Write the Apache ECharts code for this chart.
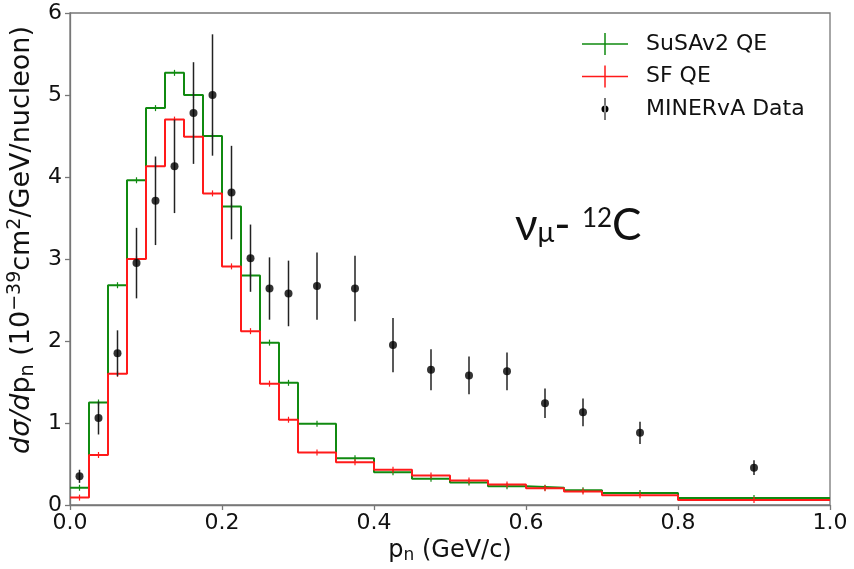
<!DOCTYPE html>
<html><head><meta charset="utf-8">
<script src="https://cdn.jsdelivr.net/npm/echarts@6/dist/echarts.min.js"></script>
<style>html,body{margin:0;padding:0;background:#fff}#c{width:854px;height:569px}</style>
</head><body><div id="c"></div>
<script>
// Bin edges (GeV/c)
const binEdges = [0, 0.025, 0.05, 0.075, 0.1, 0.125, 0.15, 0.175, 0.2, 0.225, 0.25, 0.275, 0.3, 0.35, 0.4, 0.45, 0.5, 0.55, 0.6, 0.65, 0.7, 0.8, 1.0];
// SuSAv2 QE histogram (per bin)
const susaValues = [0.21, 1.25, 2.68, 3.96, 4.84, 5.27, 5.00, 4.50, 3.64, 2.80, 1.98, 1.49, 0.99, 0.57, 0.40, 0.32, 0.275, 0.23, 0.21, 0.18, 0.145, 0.085];
// SF QE histogram (per bin)
const sfValues = [0.09, 0.61, 1.60, 3.00, 4.13, 4.70, 4.49, 3.80, 2.91, 2.12, 1.48, 1.04, 0.64, 0.52, 0.43, 0.36, 0.30, 0.25, 0.205, 0.165, 0.12, 0.06];
// MINERvA data
const dataX = [0.0125, 0.0375, 0.0625, 0.0875, 0.1125, 0.1375, 0.1625, 0.1875, 0.2125, 0.2375, 0.2625, 0.2875, 0.325, 0.375, 0.425, 0.475, 0.525, 0.575, 0.625, 0.675, 0.75, 0.9];
const dataY = [0.35, 1.06, 1.85, 2.95, 3.71, 4.13, 4.78, 5.00, 3.81, 3.01, 2.64, 2.58, 2.67, 2.64, 1.95, 1.65, 1.58, 1.63, 1.24, 1.13, 0.88, 0.455];
const dataErr = [0.08, 0.20, 0.28, 0.43, 0.54, 0.57, 0.62, 0.74, 0.57, 0.41, 0.38, 0.40, 0.41, 0.40, 0.33, 0.25, 0.23, 0.23, 0.18, 0.17, 0.135, 0.09];
const xTicks = [0, 0.2, 0.4, 0.6, 0.8, 1.0];
const yTicks = [0, 1, 2, 3, 4, 5, 6];

function stepData(vals) {
  const d = vals.map((v, i) => [binEdges[i], v]);
  d.push([binEdges[binEdges.length - 1], vals[vals.length - 1]]);
  return d;
}
function centerData(vals) {
  return vals.map((v, i) => [(binEdges[i] + binEdges[i + 1]) / 2, v]);
}
function tickRender(color) {
  return function (params, api) {
    const p = api.coord([api.value(0), api.value(1)]);
    return {type: 'line', shape: {x1: p[0], y1: p[1] - 3, x2: p[0], y2: p[1] + 3}, style: {stroke: color, lineWidth: 1.2}};
  };
}
const FONT = 'DejaVu Sans';
const TXT = '#111';
const chart = echarts.init(document.getElementById('c'), null, {renderer: 'canvas'});
const crossIcon = 'path://M0,10.25 L46,10.25 L46,11.75 L0,11.75 Z M22.25,0 L23.75,0 L23.75,22 L22.25,22 Z';
const dotIcon = 'path://M3.4,0 L4.6,0 L4.6,25 L3.4,25 Z M0,12.5 A4,4 0 1,0 8,12.5 A4,4 0 1,0 0,12.5 Z';
chart.setOption({
  animation: false,
  backgroundColor: '#fff',
  grid: {left: 70, right: 24, top: 13, bottom: 64, show: true, borderColor: '#777', borderWidth: 1.3,
         containLabel: false, outerBoundsMode: 'none'},
  legend: {
    orient: 'vertical', left: 577, top: 28, itemWidth: 46, itemHeight: 22, itemGap: 10.5,
    textStyle: {fontFamily: FONT, fontSize: 22, color: TXT, padding: [0, 0, 0, 13]},
    data: [
      {name: 'SuSAv2 QE', icon: crossIcon},
      {name: 'SF QE', icon: crossIcon},
      {name: 'MINERvA Data', icon: dotIcon}
    ]
  },
  xAxis: {
    type: 'value', min: 0, max: 1, interval: 0.2,
    name: '{n|p}{s|n}{n| (GeV/c)}', nameLocation: 'middle', nameGap: 23,
    nameTextStyle: {rich: {
      n: {fontFamily: FONT, fontSize: 24, color: TXT},
      s: {fontFamily: FONT, fontSize: 17, color: TXT, padding: [10, 0, 0, 0]}
    }},
    axisLine: {show: true, lineStyle: {color: '#777', width: 1.3}},
    axisTick: {show: true, inside: false, length: 5, lineStyle: {color: '#777', width: 1.3}},
    axisLabel: {fontFamily: FONT, fontSize: 22, color: TXT, margin: 7, formatter: v => v.toFixed(1)},
    splitLine: {show: false}
  },
  yAxis: {
    type: 'value', min: 0, max: 6, interval: 1,
    name: '{i|dσ/d}{n|p}{s|n}{n| (10}{u|−39}{n|cm}{u|2}{n|/GeV/nucleon)}',
    nameLocation: 'middle', nameGap: 25, nameRotate: 90,
    nameTextStyle: {padding: [0, 0, 0, 38], rich: {
      i: {fontFamily: FONT, fontSize: 27, fontStyle: 'italic', color: TXT},
      n: {fontFamily: FONT, fontSize: 27, color: TXT},
      s: {fontFamily: FONT, fontSize: 19, color: TXT, padding: [11, 0, 0, 0]},
      u: {fontFamily: FONT, fontSize: 19, color: TXT, padding: [0, 0, 14, 0]}
    }},
    axisLine: {show: true, lineStyle: {color: '#777', width: 1.3}},
    axisTick: {show: true, inside: false, length: 5, lineStyle: {color: '#777', width: 1.3}},
    axisLabel: {fontFamily: FONT, fontSize: 22, color: TXT, margin: 8},
    splitLine: {show: false}
  },
  graphic: [{
    type: 'text', left: 515, top: 204, z: 10,
    style: {
      text: '{a|ν}{b|μ}{a|- }{c|12}{a|C}',
      rich: {
        a: {fontFamily: 'Lato', fontSize: 44, fill: '#111'},
        b: {fontFamily: 'Lato', fontSize: 28, fill: '#111', padding: [13, 0, 0, 0]},
        c: {fontFamily: 'Lato', fontSize: 26, fill: '#111', padding: [0, 0, 14, 0]}
      }
    }
  }],
  series: [
    {name: 'SuSAv2 QE', type: 'line', step: 'end', data: stepData(susaValues), showSymbol: false, symbol: 'none',
     lineStyle: {color: '#108a10', width: 2}, itemStyle: {color: '#108a10'}, z: 3},
    {name: 'SF QE', type: 'line', step: 'end', data: stepData(sfValues), showSymbol: false, symbol: 'none',
     lineStyle: {color: '#ff1a1a', width: 2}, itemStyle: {color: '#ff1a1a'}, z: 4},
    {name: 'SuSAv2 QE', type: 'custom', data: centerData(susaValues), renderItem: tickRender('#108a10'), z: 3, itemStyle: {color: '#108a10'}},
    {name: 'SF QE', type: 'custom', data: centerData(sfValues), renderItem: tickRender('#ff1a1a'), z: 4, itemStyle: {color: '#ff1a1a'}},
    {name: 'MINERvA Data', type: 'custom', z: 5, itemStyle: {color: '#000'},
     data: dataX.map((x, i) => [x, dataY[i], dataErr[i]]),
     renderItem: function (params, api) {
       const x = api.value(0), y = api.value(1), e = api.value(2);
       const t = api.coord([x, y + e]), b = api.coord([x, y - e]);
       return {type: 'line', shape: {x1: t[0], y1: t[1], x2: b[0], y2: b[1]}, style: {stroke: '#222', lineWidth: 1.5}};
     }},
    {name: 'MINERvA Data', type: 'scatter', z: 6, symbol: 'circle', symbolSize: 8,
     itemStyle: {color: '#000'}, data: dataX.map((x, i) => [x, dataY[i]])}
  ]
});
</script></body></html>
